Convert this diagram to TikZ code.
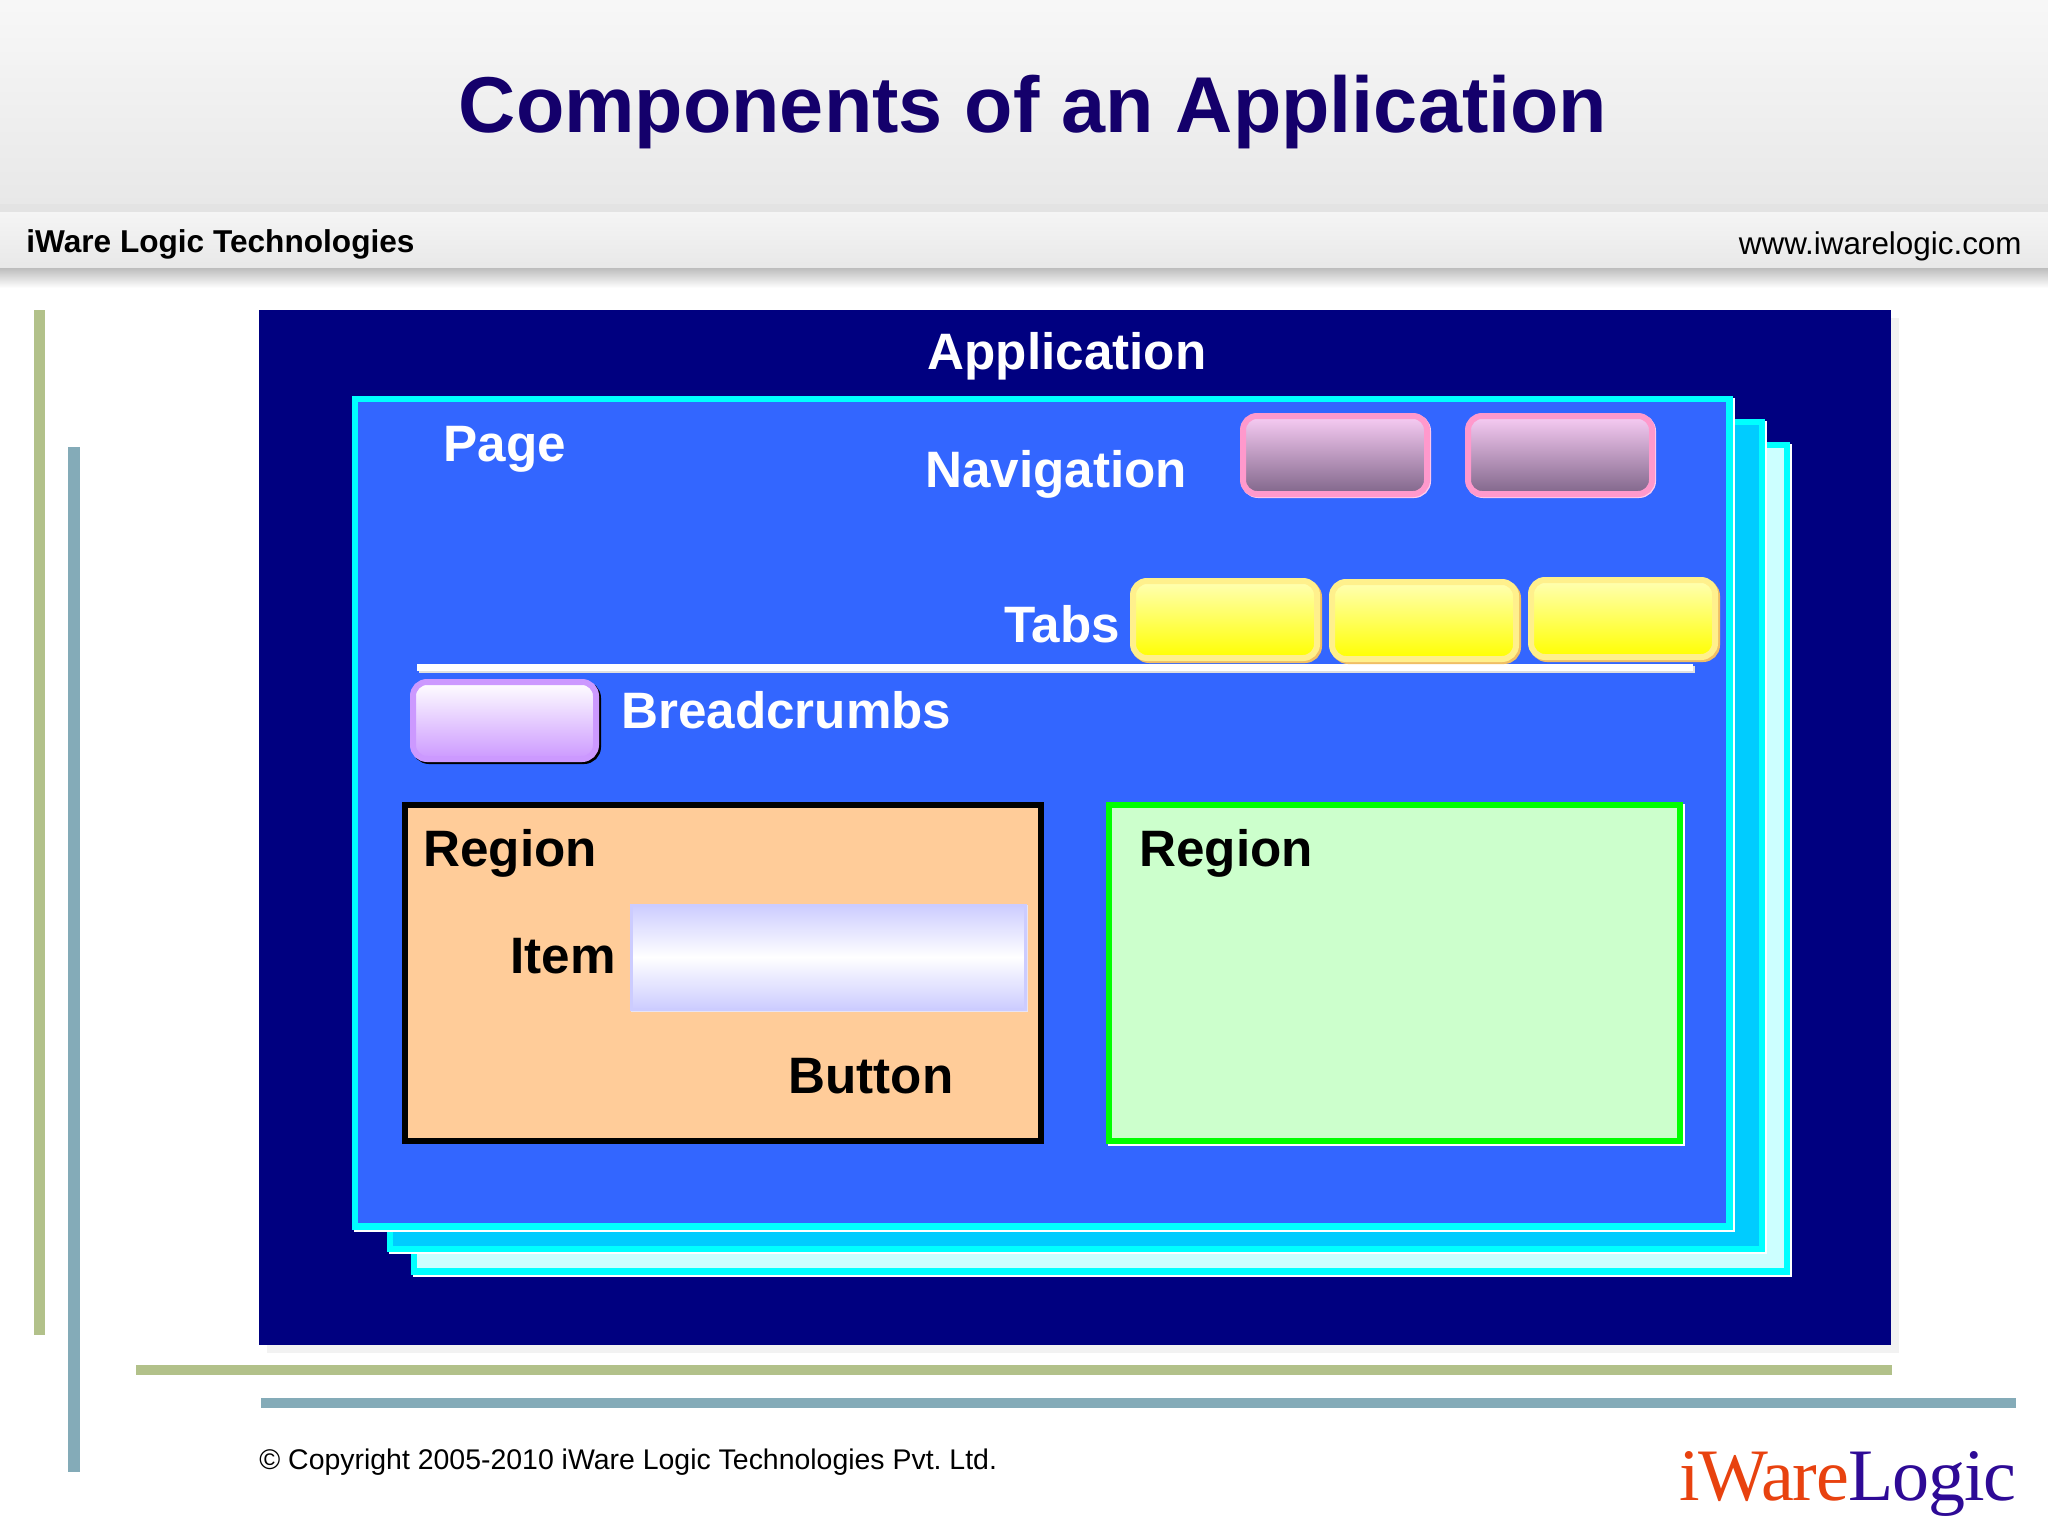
\documentclass[tikz,border=0pt]{standalone}
\usepackage{fontspec}
\usepackage{xcolor}
\setmainfont{Liberation Sans}
\newfontfamily\logofont[LetterSpace=-1.8]{Liberation Serif}
\usetikzlibrary{shadows}
\definecolor{titleblue}{HTML}{14006B}
\definecolor{appblue}{HTML}{000080}
\definecolor{pageblue}{HTML}{3366FF}
\definecolor{edgecyan}{HTML}{00FFFF}
\definecolor{midcyan}{HTML}{00CCFF}
\definecolor{palecyan}{HTML}{CCFFFF}
\definecolor{oliveline}{HTML}{B2C18A}
\definecolor{tealline}{HTML}{84ABB8}
\definecolor{logored}{HTML}{E8420F}
\definecolor{logoblue}{HTML}{2E0A96}
\definecolor{navpink}{HTML}{FF99CC}
\definecolor{navpale}{HTML}{FFCCEE}
\definecolor{navtop}{HTML}{F8CCF4}
\definecolor{navbot}{HTML}{80668A}
\definecolor{tabedge}{HTML}{FFF08C}
\definecolor{tabtop}{HTML}{FFFFB4}
\definecolor{tabshade}{HTML}{F0BE64}
\definecolor{crumbedge}{HTML}{CC99FF}
\definecolor{regionpeach}{HTML}{FFCC99}
\definecolor{regiongreen}{HTML}{CCFFCC}
\definecolor{regionedge}{HTML}{00FF00}
\definecolor{itemedge}{HTML}{CCCCFF}
\definecolor{itempale}{HTML}{E8E4F4}
\tikzset{
    sheet/.style n args={3}{rectangle, anchor=north west, inner sep=0pt, outer sep=0pt,
        minimum width=#1*0.5pt, minimum height=#2*0.5pt, fill=#3},
    framed/.style 2 args={draw=#1, line width=3.2pt,
        general shadow={shadow xshift=#2, shadow yshift=-#2, fill=white, draw=white}},
    btn/.style 2 args={rectangle, rounded corners=7pt, anchor=north west, inner sep=0pt, outer sep=0pt,
        minimum width=#1*0.5pt, minimum height=#2*0.5pt, line width=3pt},
    navbtn/.style={btn={184}{78}, draw=navpink, top color=navtop, bottom color=navbot,
        general shadow={shadow xshift=.5pt, shadow yshift=-.5pt, fill=navpale, draw=navpale}},
    tabbtn/.style={btn={184}{77}, draw=tabedge, top color=tabtop, bottom color=yellow,
        general shadow={shadow xshift=1pt, shadow yshift=-1pt, fill=tabshade, draw=tabshade}},
    lbl/.style={anchor=base west, inner sep=0pt, text=#1, font=\bfseries\fontsize{25.6}{28}\selectfont},
    bar/.style={rectangle, anchor=north west, inner sep=0pt, outer sep=0pt, fill=#1},
}
\begin{document}
\begin{tikzpicture}[x=0.5pt,y=-0.5pt]
    \useasboundingbox (0,0) rectangle (2048,1536);
    % header
    \node (headtop) [sheet={2048}{204}{white}, top color=black!3, bottom color=black!9] at (0,0) {};
    \node (headgap) [sheet={2048}{8}{black!11}] at (0,204) {};
    \node (headband) [sheet={2048}{56}{white}, top color=black!4, bottom color=black!9] at (0,212) {};
    \node (headshade) [sheet={2048}{20}{white}, top color=black!26, bottom color=white] at (0,268) {};
    \node (title) [anchor=base, inner sep=0pt, text=titleblue,
        font=\bfseries\fontsize{39.6}{42}\selectfont] at (1033,133) {Components of an Application};
    \node (company) [anchor=base west, inner sep=0pt,
        font=\bfseries\fontsize{15.8}{18}\selectfont] at (26,252) {iWare Logic Technologies};
    \node (website) [anchor=base east, inner sep=0pt,
        font=\fontsize{15.7}{18}\selectfont] at (2022,254) {www.iwarelogic.com};
    % decoration bars
    \node (barA) [bar=oliveline, minimum width=5.5pt, minimum height=512.5pt] at (34,310) {};
    \node (barB) [bar=tealline, minimum width=6pt, minimum height=512.5pt] at (68,447) {};
    \node (barC) [bar=oliveline, minimum width=878pt, minimum height=5pt] at (136,1365) {};
    \node (barD) [bar=tealline, minimum width=877.5pt, minimum height=5pt] at (261,1398) {};
    % application and stacked pages
    \node (app) [sheet={1632}{1035}{appblue},
        general shadow={shadow xshift=4pt, shadow yshift=-4pt, fill=black!5}] at (259,310) {};
    \node (appText) [lbl=white, anchor=base] at (1067,369) {Application};
    \node (sheetC) [sheet={1373}{826.5}{palecyan}, framed={edgecyan}{1pt}] at (414,445) {};
    \node (sheetB) [sheet={1372}{827}{midcyan}, framed={edgecyan}{1pt}] at (390,422) {};
    \node (page) [sheet={1374.5}{827.5}{pageblue}, framed={edgecyan}{1pt}] at (355,399) {};
    \node (pageText) [lbl=white] at (443,461) {Page};
    % navigation
    \node (navText) [lbl=white] at (925,487) {Navigation};
    \node (navA) [navbtn] at (1243,416) {};
    \node (navB) [navbtn] at (1468,416) {};
    % tabs
    \node (tabText) [lbl=white] at (1004,642) {Tabs};
    \node (rule) [bar=white, minimum width=638pt, minimum height=3.5pt,
        general shadow={shadow xshift=1pt, shadow yshift=-1pt, fill=black!12}] at (417,664) {};
    \node (tabA) [tabbtn] at (1133,581) {};
    \node (tabB) [tabbtn] at (1332,582) {};
    \node (tabC) [tabbtn] at (1531,580) {};
    % breadcrumbs
    \node (crumb) [btn={183}{77}, draw=crumbedge, top color=white, bottom color=crumbedge,
        general shadow={shadow xshift=1pt, shadow yshift=-1pt, fill=black, draw=black}] at (413,682) {};
    \node (crumbText) [lbl=white] at (621,728) {Breadcrumbs};
    % regions
    \node (regionA) [sheet={636}{336}{regionpeach}, draw=black, line width=3.2pt] at (405,805) {};
    \node (regionAText) [lbl=black] at (423,866) {Region};
    \node (itemText) [lbl=black] at (510,973) {Item};
    \node (item) [sheet={394}{104}{white}, draw=itemedge, line width=1.5pt,
        top color=itemedge, bottom color=itemedge, middle color=white,
        general shadow={shadow xshift=.5pt, shadow yshift=-.5pt, fill=itempale, draw=itempale}] at (631,905) {};
    \node (buttonText) [lbl=black] at (788,1093) {Button};
    \node (regionB) [sheet={571}{336}{regiongreen}, framed={regionedge}{1pt}] at (1109,805) {};
    \node (regionBText) [lbl=black] at (1139,866) {Region};
    % footer
    \node (copyright) [anchor=base west, inner sep=0pt,
        font=\frenchspacing\fontsize{14.22}{17}\selectfont] at (259,1469) {© Copyright 2005-2010 iWare Logic Technologies Pvt. Ltd.};
    \node (logo) [anchor=base west, inner sep=0pt,
        font=\logofont\fontsize{37}{40}\selectfont] at (1679,1500)
        {\textcolor{logored}{iWare}\textcolor{logoblue}{Logic}};
\end{tikzpicture}
\end{document}
